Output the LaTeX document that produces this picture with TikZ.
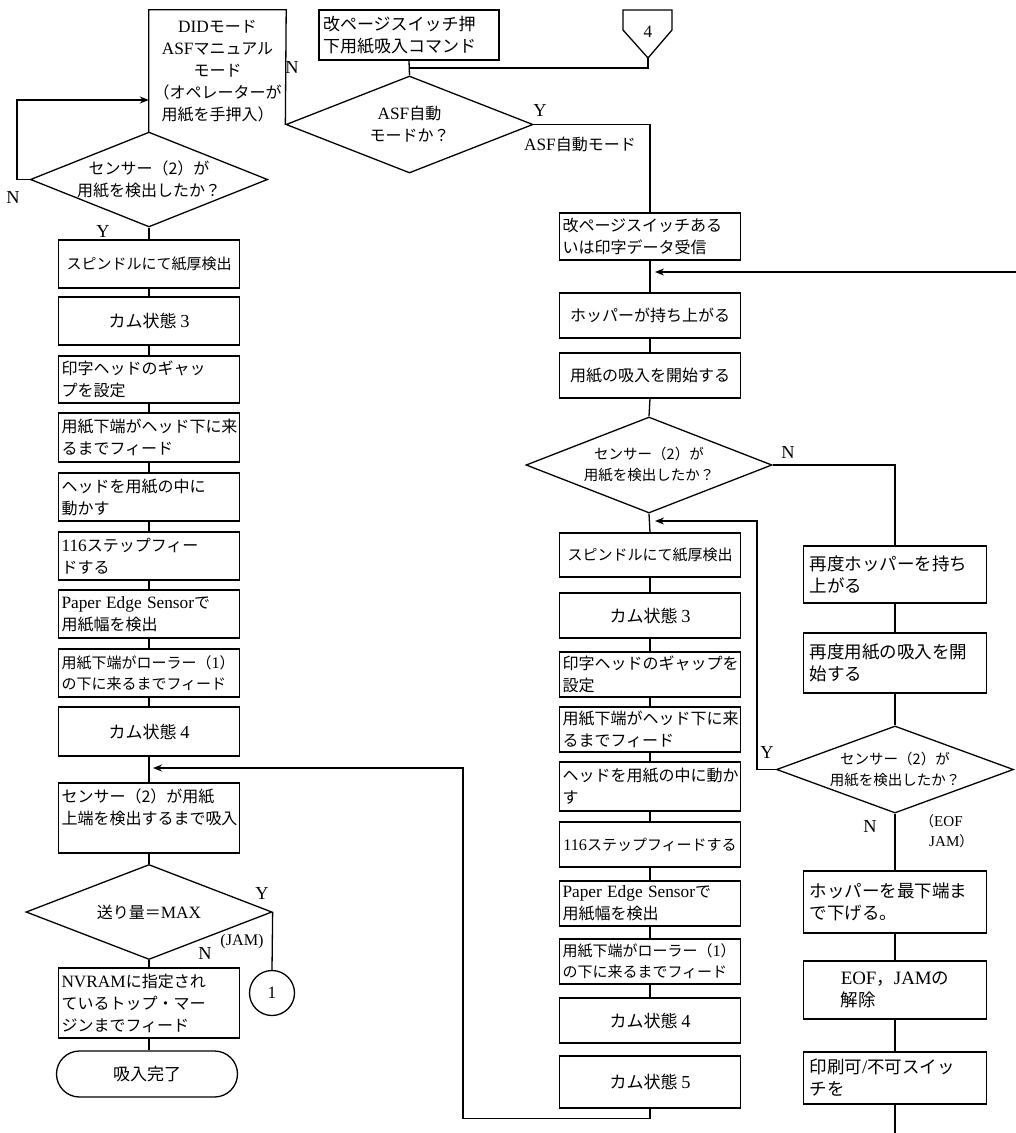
\documentclass[tikz,border=0pt]{standalone}
\usepackage{fontspec}
\setmainfont{Noto Sans CJK JP}
\newfontfamily\lat[Scale=1.08]{Liberation Serif}
\usetikzlibrary{shapes.geometric,arrows.meta,calc}
\newcommand\fA{\fontsize{16}{22}\selectfont}
\newcommand\fB{\fontsize{17.5}{22}\selectfont}
\newcommand\fC{\fontsize{14.5}{21}\selectfont}
\newcommand\fD{\fontsize{16}{22}\selectfont}
\newcommand\fE{\fontsize{15}{21}\selectfont}
\tikzset{
 ln/.style={line width=1.3pt},
 box/.style={draw, line width=1.3pt, inner sep=3pt, minimum width=181pt, font=\fA, align=center},
 ml/.style={box, text width=175pt, align=left},
 fbox/.style={box, minimum width=183pt, font=\fB},
 fml/.style={fbox, text width=171pt, inner sep=6pt, align=left},
 dia/.style={draw, diamond, line width=1.3pt, inner sep=0pt, aspect=2.5, align=center, font=\fC},
 lbl/.style={font=\lat\fontsize{17}{20}\selectfont, inner sep=0pt},
 arr/.style={line width=1.3pt, -{Stealth[length=9pt,width=7pt]}},
}
\begin{document}
\begin{tikzpicture}[x=1pt,y=-1pt]
\useasboundingbox (0,0) rectangle (1016,1133);

% ---------- top ----------
\node[ml, minimum width=180pt, text width=172pt, inner sep=4pt, minimum height=50pt, font=\fontsize{17}{22}\selectfont] (cmd) at (409,35) {改ページスイッチ押\\下用紙吸入コマンド};
\node[font=\lat\fA, inner sep=0pt] (p4) at (648,32) {4};
\draw[ln] (623,10) -- (672,10) -- (672,30) -- (648,58) -- (623,30) -- cycle;
\coordinate (p4tip) at (648,58);

\node[dia, minimum width=247pt, minimum height=97pt, font=\fD] (asf) at (409.5,124.5) {{\lat ASF}自動\\モードか？};
\coordinate (jn) at (409.5,68);
\draw[ln] (cmd.south) -- (asf.north);
\draw[ln] (p4tip) |- (jn);

\node[inner sep=0pt, minimum width=137pt, minimum height=123pt, align=center, font=\fA] (did) at (217.5,71.5) {{\lat DID}モード\\{\lat ASF}マニュアル\\モード\\（オペレーターが\\用紙を手押入）};
\draw[ln] (did.south west) -- (did.north west) -- (did.north east) -- (asf.west);
\node[lbl] at (292,67) {N};

\node[lbl] at (540,110) {Y};
\node[font=\fD, inner sep=0pt] at (580,144) {{\lat ASF}自動モード};

% ---------- left column ----------
\node[dia, minimum width=236pt, minimum height=93pt, font=\fD] (ls) at (149,179.5) {センサー（2）が\\用紙を検出したか？};
\draw[arr] (ls.west) -- (17,179.5) |- ([yshift=-28.5pt]did.west);
\node[lbl] at (13,197) {N};
\node[lbl] at (103,231) {Y};

\node[box, minimum height=48pt, font=\fE] (l1) at (149,264) {スピンドルにて紙厚検出};
\node[box, minimum height=48pt, font=\fontsize{17}{22}\selectfont] (l2) at (149,321) {カム状態 {\lat 3}};
\node[ml, minimum height=47pt] (l3) at (149,379.5) {印字ヘッドのギャッ\\プを設定};
\node[ml, minimum height=49pt] (l4) at (149,437.5) {用紙下端がヘッド下に来\\るまでフィード};
\node[ml, minimum height=48pt] (l5) at (149,497) {ヘッドを用紙の中に\\動かす};
\node[ml, minimum height=48pt] (l6) at (149,556) {{\lat 116}ステップフィー\\ドする};
\node[ml, minimum height=48pt] (l7) at (149,614) {{\lat Paper Edge Sensor}で\\用紙幅を検出};
\node[ml, minimum height=48pt, font=\fE] (l8) at (149,673) {用紙下端がローラー（{\lat 1}）\\の下に来るまでフィード};
\node[box, minimum height=49pt, font=\fontsize{17}{22}\selectfont] (l9) at (149,731.5) {カム状態 {\lat 4}};
\node[ml, minimum height=70pt] (l10) at (149,818) {センサー（2）が用紙\\上端を検出するまで吸入\\\mbox{}};
\node[dia, minimum width=246pt, minimum height=95pt, font=\fD] (mx) at (149,912) {送り量＝{\lat MAX}};
\node[ml, minimum height=70pt] (nv) at (149,1003) {{\lat NVRAM}に指定され\\ているトップ・マー\\ジンまでフィード};
\node[box, rounded corners=23pt, minimum height=46pt, font=\fontsize{17}{22}\selectfont] (fin) at (147,1074) {吸入完了};
\node[circle, draw, line width=1.3pt, minimum size=45pt, inner sep=0pt, font=\lat\fD] (c1) at (272,993) {1};

\draw[ln] (ls.south) -- (l1.north);
\foreach \a/\b in {l1/l2,l2/l3,l3/l4,l4/l5,l5/l6,l6/l7,l7/l8,l8/l9,l9/l10,l10/mx,mx/nv}
  \draw[ln] (\a.south) -- (\b.north);
\draw[ln] (nv.south) -- (nv.south |- fin.north);
\draw[ln] (mx.east) -- (c1.north);
\node[lbl] at (262,893) {Y};
\node[lbl] at (205,953) {N};
\node[lbl, font=\lat\fontsize{15}{18}\selectfont] at (242,942) {(JAM)};

% ---------- right column ----------
\node[ml, minimum height=47pt] (r0) at (650,236.5) {改ページスイッチある\\いは印字データ受信};
\draw[ln] (asf.east) -| (r0.north);
\coordinate (rin0) at (1016,272);
\coordinate (rin) at (655,272);
\draw[arr] (rin0) -- (rin);
\node[box, minimum height=45pt] (r1) at (650,315.5) {ホッパーが持ち上がる};
\node[box, minimum height=45pt] (r2) at (650,375.5) {用紙の吸入を開始する};
\node[dia, minimum width=246pt, minimum height=96pt] (rd) at (649,465) {センサー（2）が\\用紙を検出したか？};
\node[lbl] at (788,452) {N};

\node[box, minimum height=44pt, font=\fE] (r3) at (650,555) {スピンドルにて紙厚検出};
\node[box, minimum height=45pt, font=\fontsize{17}{22}\selectfont] (r4) at (650,615.5) {カム状態 {\lat 3}};
\node[ml, minimum height=45pt] (r5) at (650,674.5) {印字ヘッドのギャップを\\設定};
\node[ml, minimum height=45pt] (r6) at (650,729.5) {用紙下端がヘッド下に来\\るまでフィード};
\node[ml, minimum height=49pt] (r7) at (650,786.5) {ヘッドを用紙の中に動か\\す};
\node[box, minimum height=45pt, font=\fE] (r8) at (650,844.5) {{\lat 116}ステップフィードする};
\node[ml, minimum height=45pt] (r9) at (650,903.5) {{\lat Paper Edge Sensor}で\\用紙幅を検出};
\node[ml, minimum height=45pt, font=\fE] (r10) at (650,961.5) {用紙下端がローラー（{\lat 1}）\\の下に来るまでフィード};
\node[box, minimum height=45pt, font=\fontsize{17}{22}\selectfont] (r11) at (650,1020.5) {カム状態 {\lat 4}};
\node[box, minimum height=52pt, font=\fontsize{17}{22}\selectfont] (r12) at (650,1082) {カム状態 {\lat 5}};

\foreach \a/\b in {r0/r1,r1/r2,r2/rd,rd/r3,r3/r4,r4/r5,r5/r6,r6/r7,r7/r8,r8/r9,r9/r10,r10/r11}
  \draw[ln] (\a.south) -- (\b.north);
\coordinate (lin) at (153,768);
\draw[arr] (r12.south) -- ++(0,10) -| (463,768) -- (lin);

% ---------- far right column ----------
\node[fml, minimum height=57pt] (f1) at (895,574.5) {再度ホッパーを持ち\\上がる};
\node[fml, minimum height=60pt] (f2) at (895,663) {再度用紙の吸入を開\\始する};
\node[dia, minimum width=237pt, minimum height=87pt] (fd) at (895,769.5) {センサー（2）が\\用紙を検出したか？};
\node[fml, minimum height=62pt] (f3) at (895,902) {ホッパーを最下端ま\\で下げる。};
\node[fbox, minimum height=58pt, align=left] (f4) at (895,990) {{\lat EOF}，{\lat JAM}の\\解除};
\node[fml, minimum height=52pt] (f5) at (895,1078) {印刷可{\lat /}不可スイッ\\チを};
\coordinate (fout) at (895,1133);

\draw[ln] (rd.east) -| (f1.north);
\foreach \a/\b in {f1/f2,f2/fd,fd/f3,f3/f4,f4/f5}
  \draw[ln] (\a.south) -- (\b.north);
\draw[ln] (f5.south) -- (fout);
\coordinate (rin2) at (655,521);
\draw[arr] (fd.west) -| (757,521) -- (rin2);
\node[lbl] at (767,752) {Y};
\node[lbl] at (870,826) {N};
\node[font=\fontsize{14}{20}\selectfont, align=left, inner sep=0pt, anchor=north west] at (920,814) {（{\lat EOF}\\\hspace{9pt}{\lat JAM}）};
\end{tikzpicture}
\end{document}
